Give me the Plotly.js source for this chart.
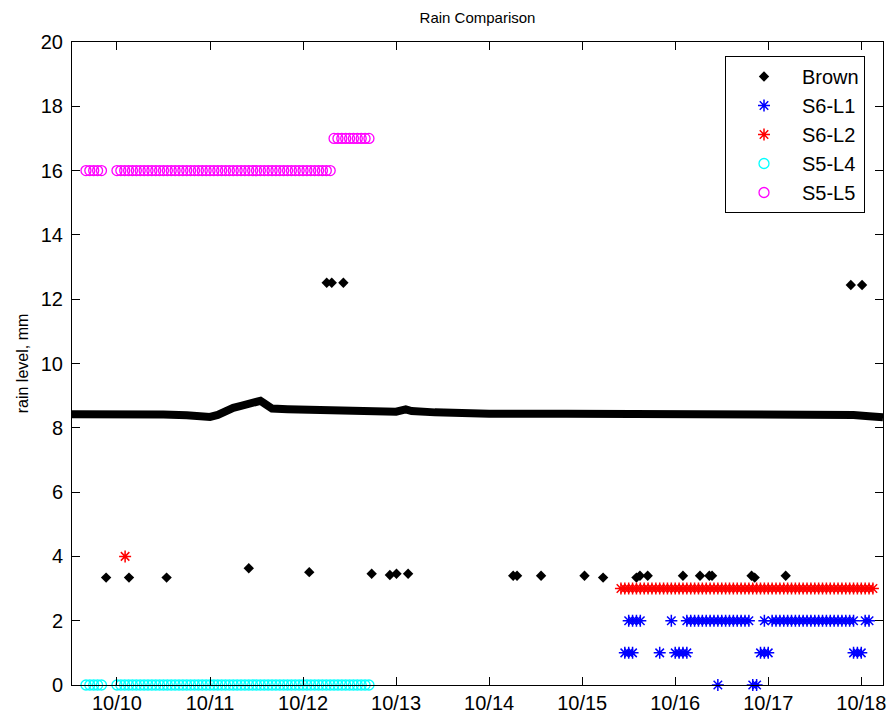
<!DOCTYPE html>
<html>
<head>
<meta charset="utf-8">
<script src="https://cdn.plot.ly/plotly-3.0.1.min.js"></script>
<style>html,body{margin:0;padding:0;background:#fff;}#chart{width:894px;height:717px;}</style>
</head>
<body>
<div id="chart"></div>
<script>
// Times are hours after 10/09 00:00
const brownLineHours = [12.4, 18, 24, 30, 36, 42, 45, 48, 50, 52, 54, 56, 58, 60, 61, 62, 64, 68, 72, 78, 84, 90, 96, 98.5, 100, 106, 113, 120, 140, 160, 180, 200, 210, 214, 218, 221.6];
const brownLineVals  = [8.42, 8.43, 8.42, 8.41, 8.41, 8.39, 8.35, 8.34, 8.40, 8.52, 8.62, 8.68, 8.72, 8.76, 8.84, 8.76, 8.60, 8.58, 8.56, 8.55, 8.52, 8.50, 8.50, 8.57, 8.52, 8.48, 8.45, 8.44, 8.44, 8.44, 8.44, 8.44, 8.43, 8.40, 8.36, 8.33];

const brownHours = [21.2, 27.1, 36.8, 58.0, 73.6, 78.1, 79.4, 82.4, 89.7, 94.4, 96.1, 99.1, 126.2, 127.2, 133.4, 144.6, 149.4, 158.0, 158.9, 160.9, 170.0, 174.4, 176.8, 177.5, 187.7, 188.5, 196.5, 213.3, 216.2];
const brownVals  = [3.34, 3.34, 3.34, 3.63, 3.51, 12.51, 12.51, 12.51, 3.46, 3.42, 3.46, 3.46, 3.40, 3.40, 3.40, 3.40, 3.34, 3.34, 3.40, 3.40, 3.40, 3.40, 3.40, 3.40, 3.40, 3.34, 3.40, 12.44, 12.44];

const s6l1Hours = [156, 157, 158, 159, 167, 171, 172, 173, 174, 175, 176, 177, 178, 179, 180, 181, 182, 183, 184, 185, 186, 187, 191, 193, 194, 195, 196, 197, 198, 199, 200, 201, 202, 203, 204, 205, 206, 207, 208, 209, 210, 211, 212, 213, 214, 217, 218,
                   155, 156, 157, 164, 168, 169, 170, 171, 190, 191, 192, 214, 215, 216,
                   179, 188, 189];
const s6l1Vals  = [2, 2, 2, 2, 2, 2, 2, 2, 2, 2, 2, 2, 2, 2, 2, 2, 2, 2, 2, 2, 2, 2, 2, 2, 2, 2, 2, 2, 2, 2, 2, 2, 2, 2, 2, 2, 2, 2, 2, 2, 2, 2, 2, 2, 2, 2, 2,
                   1, 1, 1, 1, 1, 1, 1, 1, 1, 1, 1, 1, 1, 1,
                   0, 0, 0];

const s6l2Hours = [26.1, 154, 155, 156, 157, 158, 159, 160, 161, 162, 163, 164, 165, 166, 167, 168, 169, 170, 171, 172, 173, 174, 175, 176, 177, 178, 179, 180, 181, 182, 183, 184, 185, 186, 187, 188, 189, 190, 191, 192, 193, 194, 195, 196, 197, 198, 199, 200, 201, 202, 203, 204, 205, 206, 207, 208, 209, 210, 211, 212, 213, 214, 215, 216, 217, 218, 219];
const s6l2Vals  = [4, 3, 3, 3, 3, 3, 3, 3, 3, 3, 3, 3, 3, 3, 3, 3, 3, 3, 3, 3, 3, 3, 3, 3, 3, 3, 3, 3, 3, 3, 3, 3, 3, 3, 3, 3, 3, 3, 3, 3, 3, 3, 3, 3, 3, 3, 3, 3, 3, 3, 3, 3, 3, 3, 3, 3, 3, 3, 3, 3, 3, 3, 3, 3, 3, 3, 3];

const s5l4Hours = [16, 17, 18, 19, 20, 24, 25, 26, 27, 28, 29, 30, 31, 32, 33, 34, 35, 36, 37, 38, 39, 40, 41, 42, 43, 44, 45, 46, 47, 48, 49, 50, 51, 52, 53, 54, 55, 56, 57, 58, 59, 60, 61, 62, 63, 64, 65, 66, 67, 68, 69, 70, 71, 72, 73, 74, 75, 76, 77, 78, 79, 80, 81, 82, 83, 84, 85, 86, 87, 88, 89];
const s5l4Vals  = [0, 0, 0, 0, 0, 0, 0, 0, 0, 0, 0, 0, 0, 0, 0, 0, 0, 0, 0, 0, 0, 0, 0, 0, 0, 0, 0, 0, 0, 0, 0, 0, 0, 0, 0, 0, 0, 0, 0, 0, 0, 0, 0, 0, 0, 0, 0, 0, 0, 0, 0, 0, 0, 0, 0, 0, 0, 0, 0, 0, 0, 0, 0, 0, 0, 0, 0, 0, 0, 0, 0];

const s5l5Hours = [16, 17, 18, 19, 20, 24, 25, 26, 27, 28, 29, 30, 31, 32, 33, 34, 35, 36, 37, 38, 39, 40, 41, 42, 43, 44, 45, 46, 47, 48, 49, 50, 51, 52, 53, 54, 55, 56, 57, 58, 59, 60, 61, 62, 63, 64, 65, 66, 67, 68, 69, 70, 71, 72, 73, 74, 75, 76, 77, 78, 79, 80, 81, 82, 83, 84, 85, 86, 87, 88, 89];
const s5l5Vals  = [16, 16, 16, 16, 16, 16, 16, 16, 16, 16, 16, 16, 16, 16, 16, 16, 16, 16, 16, 16, 16, 16, 16, 16, 16, 16, 16, 16, 16, 16, 16, 16, 16, 16, 16, 16, 16, 16, 16, 16, 16, 16, 16, 16, 16, 16, 16, 16, 16, 16, 16, 16, 16, 16, 16, 16, 16, 16, 16, 16, 16, 17, 17, 17, 17, 17, 17, 17, 17, 17, 17];

const seriesNames = ['Brown', 'S6-L1', 'S6-L2', 'S5-L4', 'S5-L5'];
const xTickStart = '2012-10-10';
const xRangeHours = [12.4, 221.6];
const yRange = [0, 20];

const T0 = Date.UTC(2012, 9, 9);
function hd(h) {
  return new Date(T0 + h * 3600000).toISOString().slice(0, 19).replace('T', ' ');
}
const F = 'Arial, "Liberation Sans", Helvetica, sans-serif';

const traces = [
  {x: brownLineHours.map(hd), y: brownLineVals, mode: 'lines', line: {color: '#000', width: 8},
   showlegend: false, legendgroup: 'g1', hoverinfo: 'skip', cliponaxis: false},
  {x: brownHours.map(hd), y: brownVals, name: seriesNames[0], mode: 'markers', legendgroup: 'g1',
   marker: {symbol: 'diamond', size: 8, color: '#000'}},
  {x: s6l1Hours.map(hd), y: s6l1Vals, name: seriesNames[1], mode: 'markers', legendgroup: 'g2', cliponaxis: false,
   marker: {symbol: 'asterisk-open', size: 10, color: '#0000ff', line: {color: '#0000ff', width: 1.5}}},
  {x: s6l2Hours.map(hd), y: s6l2Vals, name: seriesNames[2], mode: 'markers', legendgroup: 'g3',
   marker: {symbol: 'asterisk-open', size: 10, color: '#ff0000', line: {color: '#ff0000', width: 1.5}}},
  {x: s5l4Hours.map(hd), y: s5l4Vals, name: seriesNames[3], mode: 'markers', legendgroup: 'g4', cliponaxis: false,
   marker: {symbol: 'circle-open', size: 10, color: '#00ffff', line: {color: '#00ffff', width: 1.3}}},
  {x: s5l5Hours.map(hd), y: s5l5Vals, name: seriesNames[4], mode: 'markers', legendgroup: 'g5',
   marker: {symbol: 'circle-open', size: 10, color: '#ff00ff', line: {color: '#ff00ff', width: 1.3}}}
];

const axisCommon = {
  showline: true, linecolor: '#000', linewidth: 1, mirror: 'ticks',
  ticks: 'inside', ticklen: 8, tickcolor: '#000', tickwidth: 1,
  showgrid: false, zeroline: false,
  tickfont: {family: F, size: 20, color: '#000'}
};

const layout = {
  width: 894, height: 717,
  paper_bgcolor: '#fff', plot_bgcolor: '#fff',
  margin: {l: 72, r: 11, t: 42, b: 32, pad: 0},
  font: {family: F, color: '#000'},
  title: {text: 'Rain Comparison', font: {family: F, size: 15, color: '#000'},
          x: 0.5, xref: 'paper', xanchor: 'center', y: 1 - 18 / 717, yref: 'container', yanchor: 'middle'},
  xaxis: Object.assign({}, axisCommon, {
    type: 'date', range: xRangeHours.map(hd), tickformat: '%m/%d',
    tick0: xTickStart, dtick: 86400000, ticklabelstandoff: 0
  }),
  yaxis: Object.assign({}, axisCommon, {
    range: yRange, dtick: 2, ticklabelstandoff: 4,
    title: {text: 'rain level, mm', font: {family: F, size: 16, color: '#000'}, standoff: 8}
  }),
  legend: {
    x: (725 - 72) / 811, y: (685 - 56) / 643, xanchor: 'left', yanchor: 'top',
    bgcolor: '#fff', bordercolor: '#000', borderwidth: 1,
    font: {family: F, size: 20, color: '#000'},
    traceorder: 'grouped', tracegroupgap: 0, itemwidth: 66
  },
  showlegend: true
};

Plotly.newPlot('chart', traces, layout, {staticPlot: true});
</script>
</body>
</html>
